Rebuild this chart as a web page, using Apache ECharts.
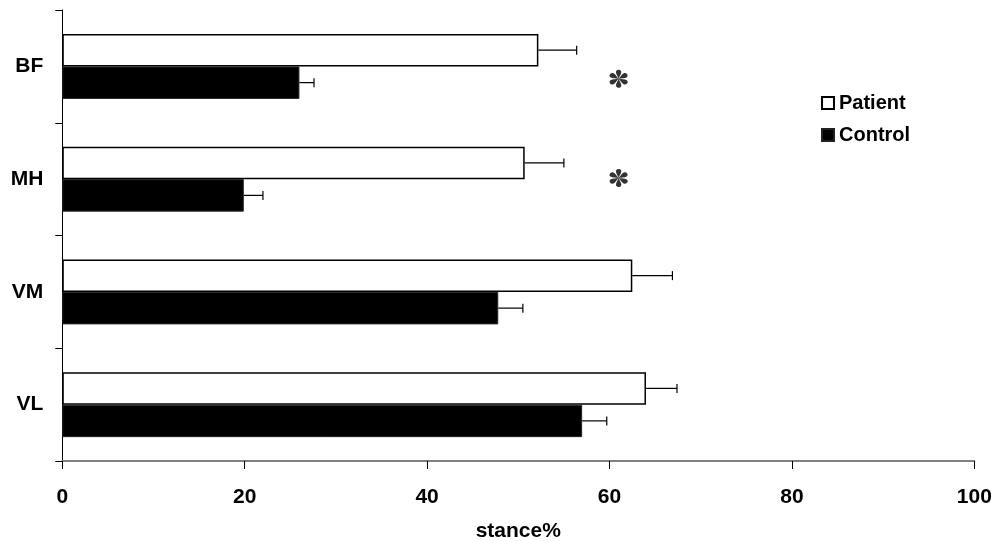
<!DOCTYPE html>
<html>
<head>
<meta charset="utf-8">
<script src="https://cdn.jsdelivr.net/npm/echarts@6/dist/echarts.min.js"></script>
<style>
  html, body { margin: 0; padding: 0; background: #fff; }
  #chart { width: 996px; height: 541px; }
</style>
</head>
<body>
<div id="chart"></div>
<script>
// muscles, bottom to top as drawn on the y axis
const muscles = ["VL", "VM", "MH", "BF"];

const patientMean = [64.0, 62.5, 50.7, 52.2];
const patientErr = [3.4, 4.4, 4.3, 4.2];
const controlMean = [57.0, 47.8, 19.9, 26.0];
const controlErr = [2.7, 2.7, 2.1, 1.6];

const xTicks = [0, 20, 40, 60, 80, 100];

// significance marks (x in stance%, y on a hidden 0-4 scale)
const starX = [61, 61];
const starY = [3.39, 2.51];

const FONT = "'Liberation Sans', Arial, sans-serif";
const BAR_W = 32.5;

// six teardrop-armed asterisk, as an svg path
function starPath() {
  const arm = [[0, 0], [-0.6, -2.4], [-2.9, -5.2], [-2.5, -7.4], [2.5, -7.4], [2.9, -5.2], [0.6, -2.4]];
  let d = "";
  for (let k = 0; k < 6; k++) {
    const t = (k * Math.PI) / 3;
    const p = arm.map(([x, y]) => [
      (x * Math.cos(t) - y * Math.sin(t) + 10).toFixed(2),
      (x * Math.sin(t) + y * Math.cos(t) + 10).toFixed(2),
    ]);
    d += `M${p[0]} C${p[1]} ${p[2]} ${p[3]} A2.6 2.6 0 0 1 ${p[4]} C${p[5]} ${p[6]} ${p[0]} Z `;
  }
  return "path://" + d.replace(/,/g, " ").replace(/(\d) (-?\d)/g, "$1,$2");
}

const chart = echarts.init(document.getElementById("chart"));

function errorBars(means, errs, side) {
  return {
    type: "custom",
    yAxisIndex: 0,
    silent: true,
    z: 5,
    data: means.map((m, i) => [i, m, errs[i]]),
    encode: { x: [1], y: 0 },
    renderItem: (params, api) => {
      const cat = api.value(0);
      const start = api.coord([api.value(1), cat]);
      const end = api.coord([api.value(1) + api.value(2), cat]);
      const y = start[1] + side * BAR_W / 2;
      const style = { stroke: "#000", lineWidth: 1.2 };
      return {
        type: "group",
        children: [
          { type: "line", shape: { x1: start[0], y1: y, x2: end[0], y2: y }, style },
          { type: "line", shape: { x1: end[0], y1: y - 4.5, x2: end[0], y2: y + 4.5 }, style },
        ],
      };
    },
  };
}

chart.setOption({
  animation: false,
  backgroundColor: "#fff",
  textStyle: { fontFamily: FONT },
  grid: { left: 62.3, right: 21.7, top: 10, bottom: 80, outerBoundsMode: "none", containLabel: false },
  legend: {
    data: ["Patient", "Control"],
    orient: "vertical",
    left: 821,
    top: 93,
    padding: 0,
    itemGap: 12,
    itemWidth: 12,
    itemHeight: 12,
    icon: "rect",
    textStyle: { fontFamily: FONT, fontWeight: "bold", fontSize: 20, color: "#000", lineHeight: 20 },
  },
  xAxis: {
    type: "value",
    min: 0,
    max: 100,
    interval: 20,
    name: "stance%",
    nameLocation: "middle",
    nameGap: 60,
    nameTextStyle: { fontFamily: FONT, fontWeight: "bold", fontSize: 21, color: "#000" },
    axisLine: { show: true, lineStyle: { color: "#808080", width: 2 } },
    axisTick: { show: true, length: 8, lineStyle: { color: "#000", width: 1 } },
    axisLabel: {
      margin: 26,
      fontFamily: FONT,
      fontWeight: "bold",
      fontSize: 21,
      color: "#000",
      formatter: (v) => (xTicks.includes(v) ? String(v) : ""),
    },
    splitLine: { show: false },
  },
  yAxis: [
    {
      type: "category",
      data: muscles,
      axisLine: { show: true, lineStyle: { color: "#000", width: 1 } },
      axisTick: { show: true, length: 7, lineStyle: { color: "#000" } },
      axisLabel: { margin: 19, fontFamily: FONT, fontWeight: "bold", fontSize: 21, color: "#000" },
      splitLine: { show: false },
    },
    { type: "value", min: 0, max: 4, show: false },
  ],
  series: [
    {
      name: "Patient",
      type: "bar",
      data: patientMean,
      barWidth: BAR_W,
      barGap: "0%",
      itemStyle: { color: "#fff", borderColor: "#000", borderWidth: 1.5 },
    },
    {
      name: "Control",
      type: "bar",
      data: controlMean,
      barWidth: BAR_W,
      barGap: "0%",
      itemStyle: { color: "#000", borderColor: "#222", borderWidth: 1 },
    },
    errorBars(patientMean, patientErr, -1),
    errorBars(controlMean, controlErr, 1),
    {
      type: "scatter",
      yAxisIndex: 1,
      silent: true,
      symbol: starPath(),
      symbolSize: 18,
      itemStyle: { color: "#000" },
      data: starX.map((x, i) => [x, starY[i]]),
    },
  ],
});
</script>
</body>
</html>
